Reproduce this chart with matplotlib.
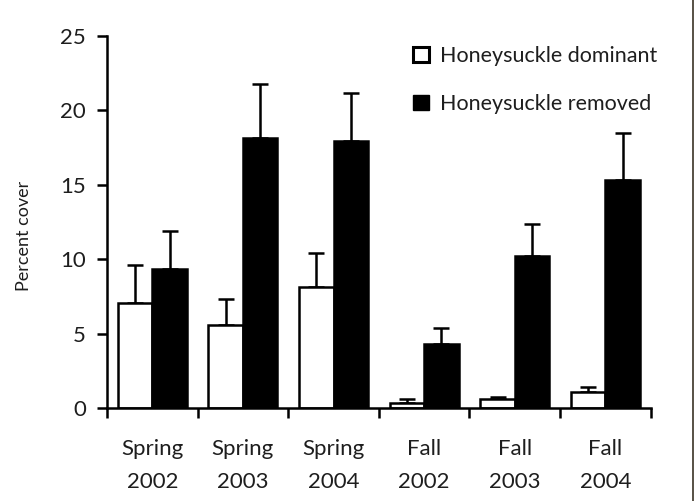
import matplotlib.pyplot as plt
import numpy as np
from matplotlib.patches import Patch
from matplotlib.lines import Line2D

plt.rcParams['font.family'] = ['Lato', 'DejaVu Sans']

# Data
seasons = ["Spring\n2002", "Spring\n2003", "Spring\n2004", "Fall\n2002", "Fall\n2003", "Fall\n2004"]
dominant = [7.05, 5.6, 8.15, 0.35, 0.6, 1.05]
dominant_err = [2.55, 1.75, 2.25, 0.25, 0.15, 0.35]
removed = [9.35, 18.15, 17.95, 4.3, 10.2, 15.3]
removed_err = [2.55, 3.65, 3.25, 1.1, 2.2, 3.2]

fig = plt.figure(figsize=(6.96, 5.01), dpi=100)
ax = fig.add_axes([0.1537, 0.1856, 0.935 - 0.1537, 0.928 - 0.1856])

x = np.arange(len(seasons))
w = 0.38
lw = 1.8
txt = '#1e1e1e'

ax.bar(x + 0.12, dominant, width=w, align='edge', color='white', edgecolor='black', linewidth=lw, zorder=2)
ax.bar(x + 0.50, removed, width=w, align='edge', color='black', edgecolor='black', linewidth=lw, zorder=2)

# Upper error bars only
ax.errorbar(x + 0.12 + w / 2, dominant, yerr=[np.zeros(len(x)), dominant_err], fmt='none',
            ecolor='black', elinewidth=lw, capsize=6, capthick=lw, zorder=1)
ax.errorbar(x + 0.50 + w / 2, removed, yerr=[np.zeros(len(x)), removed_err], fmt='none',
            ecolor='black', elinewidth=lw, capsize=6, capthick=lw, zorder=1)

ax.set_xlim(0, 6)
ax.set_ylim(0, 25)
ax.set_yticks([0, 5, 10, 15, 20, 25])
ax.tick_params(axis='y', direction='out', length=7, width=lw, labelsize=16, pad=8, labelcolor=txt)

# Group boundary ticks, labels at group centers
ax.set_xticks(np.arange(0, 7))
ax.set_xticklabels([])
ax.set_xticks(x + 0.5, minor=True)
ax.set_xticklabels(seasons, minor=True, fontsize=16, linespacing=1.85, color=txt)
ax.tick_params(axis='x', which='major', direction='out', length=7, width=lw)
ax.tick_params(axis='x', which='minor', length=0, pad=22)

for s in ['top', 'right']:
    ax.spines[s].set_visible(False)
for s in ['left', 'bottom']:
    ax.spines[s].set_linewidth(lw)

fig.text(0.034, 0.529, 'Percent cover', rotation=90, ha='center', va='center', fontsize=13, color=txt)

handles = [Patch(facecolor='white', edgecolor='black', linewidth=2.2),
           Patch(facecolor='black', edgecolor='black')]
ax.legend(handles, ['Honeysuckle dominant', 'Honeysuckle removed'], loc='upper left',
          bbox_to_anchor=(0.566, 0.947), bbox_transform=fig.transFigure, frameon=False,
          handlelength=0.75, handleheight=0.75, handletextpad=0.5, labelspacing=1.3,
          fontsize=15.5, labelcolor=txt)

# Thin border line on the right edge
fig.add_artist(Line2D([0.9964, 0.9964], [0, 1], color='#3b3326', linewidth=1.2))

plt.savefig('out.png', dpi=100)
